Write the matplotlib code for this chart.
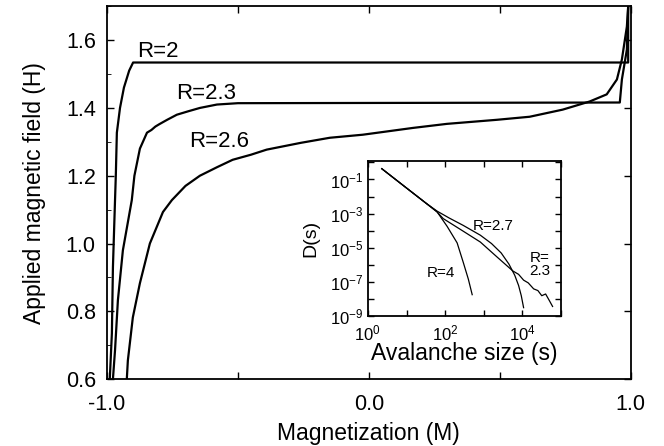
import numpy as np
import matplotlib
matplotlib.use("Agg")
import matplotlib.pyplot as plt

plt.rcParams["font.family"] = ["Liberation Sans", "DejaVu Sans"]
plt.rcParams["mathtext.default"] = "regular"

# hysteresis branches: magnetization M vs applied field H
m_r2 = [-0.989, -0.981, -0.977, -0.969, -0.966, -0.962, -0.950, -0.935, -0.915, -0.900, 0.990, 0.990]
h_r2 = [0.60, 0.735, 0.93, 1.128, 1.20, 1.327, 1.40, 1.46, 1.51, 1.534, 1.534, 1.70]

m_r23 = [-0.977, -0.969, -0.958, -0.939, -0.905, -0.895, -0.874, -0.847, -0.830, -0.815, -0.800, -0.770,
         -0.733, -0.690, -0.645, -0.580, -0.500, 0.958, 0.966, 0.985, 0.990]
h_r23 = [0.60, 0.685, 0.833, 0.98, 1.128, 1.20, 1.28, 1.327, 1.335, 1.345, 1.352, 1.365,
         1.38, 1.39, 1.40, 1.41, 1.414, 1.416, 1.484, 1.572, 1.70]

m_r26 = [-0.924, -0.920, -0.901, -0.874, -0.836, -0.786, -0.752, -0.700, -0.645, -0.580, -0.520,
         -0.450, -0.390, -0.260, -0.149, -0.023, 0.168, 0.298, 0.489, 0.614, 0.740, 0.843, 0.908,
         0.947, 0.966, 0.985, 0.990]
h_r26 = [0.60, 0.655, 0.782, 0.883, 1.00, 1.093, 1.128, 1.17, 1.20, 1.225, 1.247,
         1.262, 1.277, 1.297, 1.312, 1.321, 1.341, 1.353, 1.365, 1.374, 1.395, 1.419, 1.44,
         1.484, 1.543, 1.64, 1.70]

# avalanche size distributions (log10 s, log10 D)
logs_r4 = [0.36, 1.0, 1.5, 1.79, 2.05, 2.31, 2.47, 2.60, 2.70]
logd_r4 = [-0.37, -1.5, -2.38, -2.89, -3.74, -4.71, -5.86, -6.83, -7.74]

logs_r27 = [0.36, 1.0, 1.5, 1.79, 2.1, 2.47, 2.91, 3.2, 3.45, 3.65, 3.8, 3.9, 3.97, 4.03]
logd_r27 = [-0.37, -1.5, -2.38, -2.85, -3.25, -3.69, -4.26, -4.75, -5.3, -5.95, -6.6, -7.2, -7.8, -8.5]

logs_r23 = [0.36, 1.0, 1.5, 1.79, 1.95, 2.47, 2.91, 3.35, 3.65, 3.75, 3.9, 4.03, 4.15, 4.29,
            4.4, 4.5, 4.6, 4.7, 4.78]
logd_r23 = [-0.37, -1.5, -2.38, -2.9, -3.29, -4.03, -4.66, -5.55, -6.15, -6.35, -6.55, -6.89, -7.05, -7.4,
            -7.5, -7.8, -7.7, -8.1, -8.43]

fig = plt.figure(figsize=(6.64, 4.46), dpi=100)
ax = fig.add_axes([0.161, 0.150, 0.789, 0.836])

for m, h in [(m_r2, h_r2), (m_r23, h_r23), (m_r26, h_r26)]:
    ax.plot(m, h, color="black", lw=1.6)

ax.set_xlim(-1.0, 1.0)
ax.set_ylim(0.6, 1.7)
ax.set_xticks([-1.0, -0.5, 0.0, 0.5, 1.0])
ax.set_xticklabels(["-1.0", "", "0.0", "", "1.0"])
ax.set_yticks([0.6, 0.8, 1.0, 1.2, 1.4, 1.6])
ax.set_yticklabels(["0.6", "0.8", "1.0", "1.2", "1.4", "1.6"])
ax.set_yticks(np.arange(0.6, 1.71, 0.1), minor=True)
ax.tick_params(direction="in", top=True, right=True, labelsize=15.5, length=5, width=1)
ax.tick_params(axis="x", pad=11)
ax.tick_params(axis="y", pad=8)
ax.tick_params(which="minor", direction="in", left=True, right=False, length=3)
for sp in ax.spines.values():
    sp.set_linewidth(1.3)
ax.set_xlabel("Magnetization (M)", fontsize=16.5, labelpad=5)
ax.set_ylabel("Applied magnetic field (H)", fontsize=16.5, labelpad=14)

ax.text(-0.885, 1.566, "R=2", fontsize=16, va="center")
ax.text(-0.735, 1.442, "R=2.3", fontsize=16, va="center")
ax.text(-0.685, 1.300, "R=2.6", fontsize=16, va="center")

# inset: avalanche size distribution
ins = fig.add_axes([0.554, 0.291, 0.291, 0.348])
for ls, ld in [(logs_r4, logd_r4), (logs_r27, logd_r27), (logs_r23, logd_r23)]:
    ins.plot(10.0 ** np.array(ls), 10.0 ** np.array(ld), color="black", lw=0.9)
ins.set_xscale("log")
ins.set_yscale("log")
ins.set_xlim(1, 1e5)
ins.set_ylim(1e-9, 1.2)
ins.set_xticks([1, 1e1, 1e2, 1e3, 1e4, 1e5])
ins.set_xticklabels(["$10^0$", "", "$10^2$", "", "$10^4$", ""])
ins.set_yticks([10.0 ** k for k in range(-9, 1)])
ins.set_yticklabels(["$10^{%d}$" % k if k % 2 else "" for k in range(-9, 1)])
ins.minorticks_off()
ins.tick_params(direction="in", top=True, right=True, labelsize=12, length=4, width=1, pad=3)
ins.tick_params(axis="x", pad=5)
for sp in ins.spines.values():
    sp.set_linewidth(1.3)
ins.set_xlabel("Avalanche size (s)", fontsize=16.5, labelpad=-1)
ins.set_ylabel("D(s)", fontsize=14, labelpad=8)

ins.text(10 ** 2.72, 10 ** -3.75, "R=2.7", fontsize=11, va="center")
ins.text(10 ** 4.73, 10 ** -6.0, "R=\n2.3", fontsize=11, va="center", ha="right",
         multialignment="left", linespacing=0.9)
ins.text(10 ** 1.53, 10 ** -6.5, "R=4", fontsize=11, va="center")

fig.savefig("out.png", dpi=100)
